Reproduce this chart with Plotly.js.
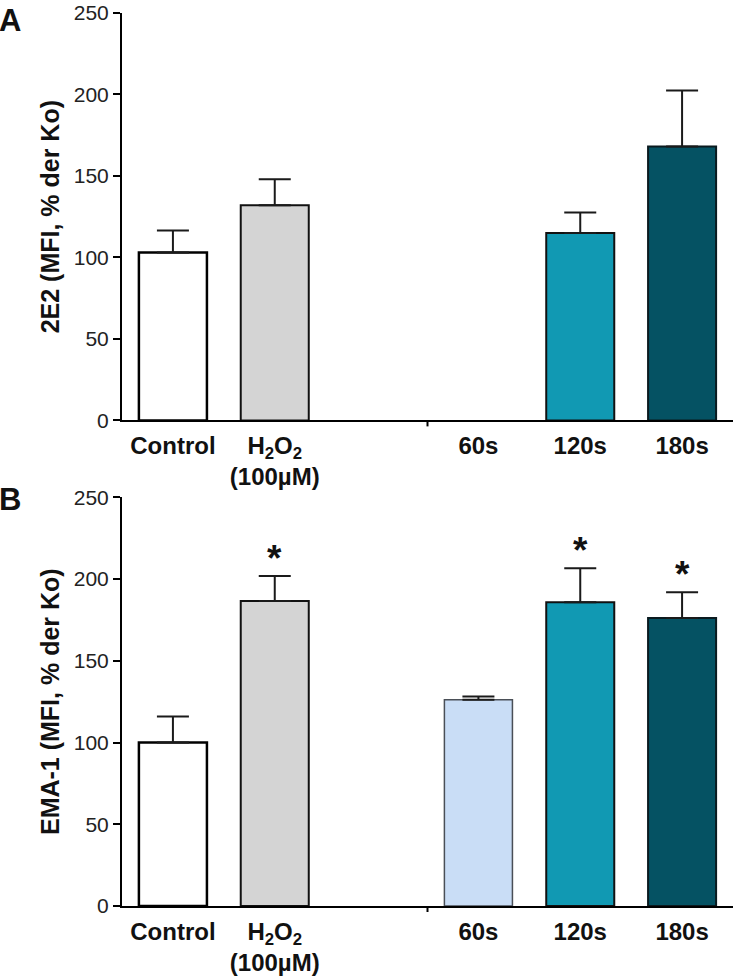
<!DOCTYPE html>
<html>
<head>
<meta charset="utf-8">
<script src="https://cdn.plot.ly/plotly-3.0.1.min.js"></script>
<style>html,body{margin:0;padding:0;background:#fff}#chart{width:737px;height:980px}</style>
</head>
<body>
<div id="chart"></div>
<script>
// ---- data ----
const categories = ['Control', 'H<sub>2</sub>O<sub>2</sub><br>(100µM)', ' ', '60s', '120s', '180s'];
const valuesA = [103, 132, null, null, 115, 168];
const errorsA = [13.5, 16, null, null, 12.5, 34.5];
const valuesB = [100, 186.6, null, 126.2, 185.8, 176.2];
const errorsB = [16, 15.3, null, 2, 20.8, 15.7];
const significanceB = ['', '*', '', '', '*', '*'];
const panelLabels = ['A', 'B'];
const yTitles = ['2E2 (MFI, % der Ko)', 'EMA-1 (MFI, % der Ko)'];
const yTickVals = [0, 50, 100, 150, 200, 250];

// ---- styles ----
const barColors = ['#ffffff', '#d4d4d4', '#ffffff', '#c9ddf6', '#1199b3', '#055263'];
const lineColors = ['#000000', '#111111', '#000000', '#4a4f57', '#111111', '#0a1a1f'];
const lineWidths = [2.5, 2, 0, 1.5, 2, 2];
const FONT = '"Liberation Sans", Arial, sans-serif';
const domA = [0.5438, 1], domB = [0, 0.45757];

function barTrace(vals, errs, xa, ya) {
  return {
    type: 'bar', x: categories, y: vals, xaxis: xa, yaxis: ya,
    width: 0.668,
    marker: { color: barColors, line: { color: lineColors, width: lineWidths } },
    error_y: { type: 'data', symmetric: false, array: errs, arrayminus: errs.map(e => 0),
               color: '#1a1a1a', thickness: 2, width: 16 },
    hoverinfo: 'skip', showlegend: false
  };
}

const data = [barTrace(valuesA, errorsA, 'x', 'y'), barTrace(valuesB, errorsB, 'x2', 'y2')];

function xAxis(anchor) {
  return {
    anchor: anchor, domain: [0, 1], type: 'category',
    categoryorder: 'array', categoryarray: categories,
    range: [-0.5, 5.5], showline: true, linecolor: '#000', linewidth: 2,
    ticks: '', showgrid: false, zeroline: false, automargin: false,
    ticklabelstandoff: 3,
    tickfont: { family: FONT, size: 24, color: '#111', weight: 'bold' },
    fixedrange: true
  };
}
function yAxis(anchor, domain, title) {
  return {
    anchor: anchor, domain: domain, range: [0, 250],
    tickvals: yTickVals, ticks: 'outside', ticklen: 7, tickwidth: 2, tickcolor: '#000',
    showline: true, linecolor: '#000', linewidth: 2, showgrid: false, zeroline: false,
    tickfont: { family: FONT, size: 21, color: '#222' },
    title: { text: '<b>' + title + '</b>', font: { family: FONT, size: 25, color: '#111' }, standoff: 7 },
    automargin: false, fixedrange: true
  };
}

const annotations = [];
panelLabels.forEach((lab, i) => {
  annotations.push({
    text: '<b>' + lab + '</b>', xref: 'paper', yref: 'paper',
    x: 0, xshift: -125, xanchor: 'left',
    y: i === 0 ? domA[1] : domB[1], yanchor: 'top', yshift: i === 0 ? 12 : 17,
    showarrow: false, font: { family: FONT, size: 31, color: '#111' }
  });
});
significanceB.forEach((s, i) => {
  if (!s) return;
  annotations.push({
    text: '<b>' + s + '</b>', xref: 'x2', yref: 'y2',
    x: categories[i], y: valuesB[i] + errorsB[i], yanchor: 'bottom', yshift: -5,
    showarrow: false, font: { family: FONT, size: 37, color: '#111' }
  });
});

const shapes = [['x', domA[0]], ['x2', domB[0]]].map(([xr, yb]) => ({
  type: 'line', xref: xr, yref: 'paper',
  x0: 2.5, x1: 2.5, ysizemode: 'pixel', yanchor: yb, y0: 0, y1: -6,
  line: { color: '#000', width: 2 }
}));

const layout = {
  width: 737, height: 980,
  margin: { l: 122, r: 4, t: 12.5, b: 74.3 },
  paper_bgcolor: '#fff', plot_bgcolor: '#fff',
  xaxis: xAxis('y'), yaxis: yAxis('x', domA, yTitles[0]),
  xaxis2: xAxis('y2'), yaxis2: yAxis('x2', domB, yTitles[1]),
  annotations: annotations, shapes: shapes,
  font: { family: FONT }
};

Plotly.newPlot('chart', data, layout, { staticPlot: true, displayModeBar: false });
</script>
</body>
</html>
